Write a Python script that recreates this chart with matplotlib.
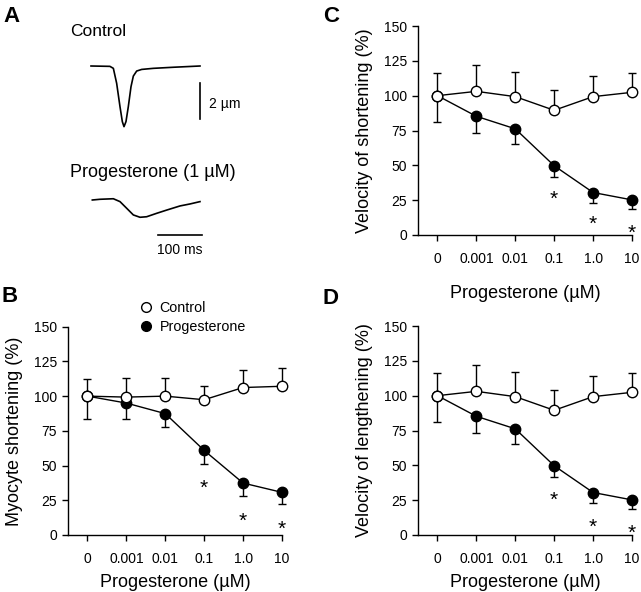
import numpy as np
import matplotlib
matplotlib.use('Agg')
from matplotlib import pyplot as plt
from matplotlib.transforms import offset_copy

plt.rcParams['font.family'] = ['Liberation Sans', 'DejaVu Sans']

# doses (categorical x axis)
doses = ['0', '0.001', '0.01', '0.1', '1.0', '10']

# B: myocyte shortening
ctrl_B = [100, 99.3, 100, 97.4, 106.2, 107.1]
ctrl_B_err = [12.1, 14.0, 13.1, 10.0, 12.6, 13.4]
prog_B = [100, 95, 87.4, 60.9, 37.4, 30.7]
prog_B_err = [16.7, 11.2, 9.8, 10.0, 9.3, 8.3]
star_B = [38.4, 14.4, 8.9]

# C: velocity of shortening
ctrl_C = [100, 103.1, 99.3, 89.5, 99.3, 102.4]
ctrl_C_err = [16.2, 19.0, 17.6, 14.8, 14.5, 13.8]
prog_C = [100, 85.2, 76.2, 49.7, 30.5, 25.2]
prog_C_err = [19.0, 11.9, 10.7, 7.8, 7.2, 6.6]
star_C = [30.7, 12.1, 6.2]

# D: velocity of lengthening
ctrl_D = [100, 103.1, 99.3, 89.5, 99.3, 102.4]
ctrl_D_err = [16.2, 19.0, 17.6, 14.8, 14.5, 13.8]
prog_D = [100, 85.2, 76.2, 49.7, 30.5, 25.2]
prog_D_err = [19.0, 11.9, 10.7, 7.8, 7.2, 6.6]
star_D = [29.5, 10.5, 6.2]

# A: example traces (ms, um)
ctrl_t = [0, 43, 50.8, 58.3, 65.9, 71.2, 75, 79.5, 84.8, 90.9, 96.2, 103.8, 115.2, 141.7, 187, 247.7]
ctrl_um = [0, -0.02, -0.13, -0.96, -2.26, -3.09, -3.37, -3.09, -2.26, -1.15, -0.56, -0.28, -0.19, -0.13, -0.07, 0]
prog_t = [3, 20.5, 50.8, 65.9, 81.1, 96.2, 111.4, 126.5, 149.2, 172, 202.3, 225, 247.7]
prog_um = [0, 0.04, 0.07, -0.09, -0.46, -0.83, -0.96, -0.93, -0.74, -0.56, -0.33, -0.22, -0.09]

W, H = 641, 592
fig = plt.figure(figsize=(W / 100, H / 100), dpi=100)


def px_axes(left, top, right, bottom):
    return fig.add_axes([left / W, 1 - bottom / H, (right - left) / W, (bottom - top) / H])


def panel(ax, ctrl, ctrl_err, prog, prog_err, stars, ylabel, xlabelpad):
    x = np.arange(len(doses))
    zeros = np.zeros(len(doses))
    ax.errorbar(x, prog, yerr=[prog_err, zeros], fmt='none', ecolor='black',
                elinewidth=1, capsize=3, capthick=1, zorder=1, clip_on=False)
    ax.errorbar(x, ctrl, yerr=[zeros, ctrl_err], fmt='none', ecolor='black',
                elinewidth=1, capsize=3, capthick=1, zorder=1, clip_on=False)
    ax.plot(x, prog, '-o', color='black', mfc='black', mec='black', ms=7.5, lw=1,
            zorder=2, clip_on=False)
    ax.plot(x, ctrl, '-o', color='black', mfc='white', mec='black', ms=7.5, lw=1,
            mew=1, zorder=3, clip_on=False)
    # asterisk ink sits high in the line box, shift it down
    tr = offset_copy(ax.transData, fig=fig, y=-4.8, units='points')
    for i, s in zip(x[3:], stars):
        ax.text(i, s, '*', ha='center', va='center', fontsize=15, transform=tr)
    ax.set_xlim(-0.5, 5.0)
    ax.set_ylim(0, 150)
    ax.set_yticks([0, 25, 50, 75, 100, 125, 150])
    ax.set_xticks(x)
    ax.set_xticklabels(doses)
    for sp in ['top', 'right']:
        ax.spines[sp].set_visible(False)
    for sp in ['left', 'bottom']:
        ax.spines[sp].set_linewidth(1)
    ax.tick_params(direction='out', length=4, width=1, labelsize=10)
    ax.tick_params(axis='x', pad=8)
    ax.tick_params(axis='y', pad=4)
    ax.set_ylabel(ylabel, fontsize=13, labelpad=8)
    ax.set_xlabel('Progesterone (µM)', fontsize=13, labelpad=xlabelpad)


axB = px_axes(68, 326.7, 282, 535)
panel(axB, ctrl_B, ctrl_B_err, prog_B, prog_B_err, star_B, 'Myocyte shortening (%)', 6)
hc, = axB.plot([], [], 'o', mfc='white', mec='black', mew=1, ms=7)
hp, = axB.plot([], [], 'o', mfc='black', mec='black', ms=7)
axB.legend([hc, hp], ['Control', 'Progesterone'], loc='upper left',
           bbox_to_anchor=(139 / W, 1 - 301 / H), bbox_transform=fig.transFigure,
           frameon=False, fontsize=10.3, handlelength=1.0, handletextpad=0.45,
           borderpad=0, borderaxespad=0, labelspacing=0.35)

axC = px_axes(418, 26, 632, 235)
panel(axC, ctrl_C, ctrl_C_err, prog_C, prog_C_err, star_C, 'Velocity of shortening (%)', 14)

axD = px_axes(418, 326, 632, 535)
panel(axD, ctrl_D, ctrl_D_err, prog_D, prog_D_err, star_D, 'Velocity of lengthening (%)', 6)

# panel A traces
axA = px_axes(60, 20, 260, 260)
axA.axis('off')
axA.set_xlim((60 - 91) / 0.44, (260 - 91) / 0.44)
axA.set_ylim((66 - 260) / 18, (66 - 20) / 18)
axA.plot(ctrl_t, ctrl_um, color='black', lw=1.2)
axA.plot(prog_t, np.array(prog_um) + (66 - 200) / 18, color='black', lw=1.2)
axA.plot([247.7, 247.7], [-0.944, -2.944], color='black', lw=1.2)
axA.plot([152.3, 252.3], [-9.39, -9.39], color='black', lw=1.2)
axA.text(268, -2.11, '2 µm', ha='left', va='center', fontsize=10)
axA.text(202.3, -10.25, '100 ms', ha='center', va='center', fontsize=10)
axA.text(-47.7, 1.89, 'Control', ha='left', va='center', fontsize=12.5)
axA.text(-47.7, -5.89, 'Progesterone (1 µM)', ha='left', va='center', fontsize=13)

for letter, (xp, yp) in zip('ABCD', [(11, 17), (10, 296), (331, 17), (331, 298)]):
    fig.text(xp / W, 1 - yp / H, letter, fontsize=16, fontweight='bold', ha='center', va='center')

fig.savefig('out.png', dpi=100)
